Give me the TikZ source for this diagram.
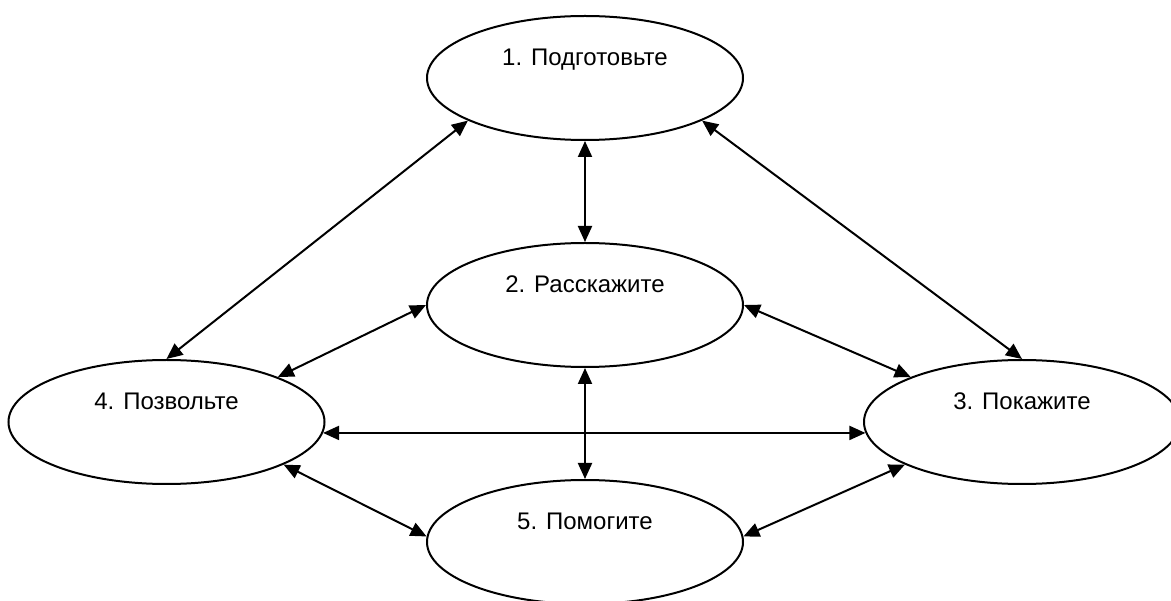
\documentclass[tikz,border=0pt]{standalone}
\usepackage{fontspec}
\setmainfont{Liberation Sans}
\usetikzlibrary{shapes.geometric, arrows.meta}

\begin{document}
\begin{tikzpicture}[x=1pt, y=-1pt, >={Triangle[length=16pt, width=14pt]},
    stage/.style={ellipse, draw, line width=2pt, minimum width=316pt, minimum height=124pt,
        font=\fontsize{24}{28}\selectfont, text height=17pt, text depth=42pt},
    link/.style={<->, line width=2pt}]
    % 1. Fix the canvas
    \useasboundingbox (0,0) rectangle (1171,601);

    % 2. Place the five stages
    \node[stage] (prep)  at (585,78)    {1. Подготовьте};
    \node[stage] (tell)  at (585,305)   {2. Расскажите};
    \node[stage] (show)  at (1022,422)  {3. Покажите};
    \node[stage] (allow) at (166.5,422) {4. Позвольте};
    \node[stage] (help)  at (585,542)   {5. Помогите};

    % 3. Connect them, arrow heads on both ends
    \draw[link] (prep.200) -- (allow.north);
    \draw[link] (prep.340) -- (show.north);
    \draw[link] (prep.south) -- (tell.north);
    \draw[link] (tell.west) -- (allow.22);
    \draw[link] (tell.east) -- (show.158);
    \draw[link] (tell.south) -- (help.north);
    \draw[link] (allow.-4.5) -- (show.184.5);
    \draw[link] (allow.340) -- (help.178);
    \draw[link] (show.200) -- (help.2);

\end{tikzpicture}
\end{document}
